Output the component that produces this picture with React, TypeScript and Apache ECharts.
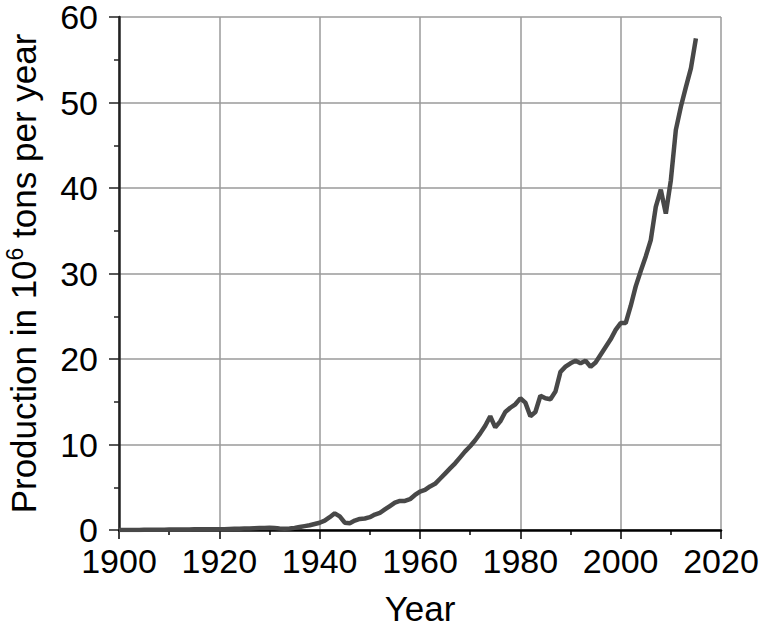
import React, { useEffect, useRef } from "react";
import * as echarts from "echarts";

const years: number[] = [
  1900, 1901, 1902, 1903, 1904, 1905, 1906, 1907, 1908, 1909,
  1910, 1911, 1912, 1913, 1914, 1915, 1916, 1917, 1918, 1919,
  1920, 1921, 1922, 1923, 1924, 1925, 1926, 1927, 1928, 1929,
  1930, 1931, 1932, 1933, 1934, 1935, 1936, 1937, 1938, 1939,
  1940, 1941, 1942, 1943, 1944, 1945, 1946, 1947, 1948, 1949,
  1950, 1951, 1952, 1953, 1954, 1955, 1956, 1957, 1958, 1959,
  1960, 1961, 1962, 1963, 1964, 1965, 1966, 1967, 1968, 1969,
  1970, 1971, 1972, 1973, 1974, 1975, 1976, 1977, 1978, 1979,
  1980, 1981, 1982, 1983, 1984, 1985, 1986, 1987, 1988, 1989,
  1990, 1991, 1992, 1993, 1994, 1995, 1996, 1997, 1998, 1999,
  2000, 2001, 2002, 2003, 2004, 2005, 2006, 2007, 2008, 2009,
  2010, 2011, 2012, 2013, 2014, 2015,
];

const production: number[] = [
  0.0, 0.0, 0.0, 0.01, 0.01, 0.02, 0.02, 0.03, 0.03, 0.04,
  0.05, 0.05, 0.06, 0.07, 0.07, 0.08, 0.08, 0.09, 0.1, 0.1,
  0.1, 0.1, 0.12, 0.14, 0.15, 0.17, 0.18, 0.2, 0.22, 0.24,
  0.25, 0.22, 0.18, 0.15, 0.18, 0.25, 0.35, 0.45, 0.55, 0.7,
  0.85, 1.1, 1.5, 1.95, 1.6, 0.85, 0.8, 1.1, 1.3, 1.35,
  1.5, 1.8, 2.0, 2.4, 2.8, 3.2, 3.4, 3.4, 3.6, 4.1,
  4.5, 4.7, 5.1, 5.4, 6.0, 6.6, 7.2, 7.8, 8.5, 9.2,
  9.8, 10.5, 11.3, 12.2, 13.3, 12.0, 12.7, 13.8, 14.3, 14.7,
  15.4, 14.9, 13.3, 13.8, 15.7, 15.4, 15.3, 16.2, 18.5, 19.1,
  19.5, 19.8, 19.5, 19.8, 19.1, 19.6, 20.5, 21.4, 22.3, 23.4,
  24.2, 24.2, 26.2, 28.5, 30.3, 32.0, 33.9, 37.8, 39.8, 37.0,
  40.9, 46.8, 49.5, 51.8, 54.0, 57.5,
];

const xTicks = { min: 1900, max: 2020, interval: 20 };
const yTicks = { min: 0, max: 60, interval: 10 };

const FONT = "'Liberation Sans', Arial, Helvetica, sans-serif";

export default function App() {
  const ref = useRef<HTMLDivElement>(null);

  useEffect(() => {
    if (!ref.current) return;
    const chart = echarts.init(ref.current, undefined, { renderer: "svg" });
    const data = years.map((y, i) => [y, production[i]]);
    chart.setOption({
      animation: false,
      backgroundColor: "#ffffff",
      grid: {
        left: 119,
        right: 41,
        top: 17,
        bottom: 98,
        containLabel: false,
        outerBoundsMode: "none",
      },
      xAxis: {
        type: "value",
        min: xTicks.min,
        max: xTicks.max,
        interval: xTicks.interval,
        name: "Year",
        nameLocation: "middle",
        nameGap: 61,
        nameTextStyle: { fontFamily: FONT, fontSize: 35, color: "#000" },
        axisLine: { show: true, onZero: false, lineStyle: { color: "#000", width: 2.5 } },
        axisTick: { show: true, inside: false, length: 9, lineStyle: { color: "#000", width: 1.5 } },
        minorTick: { show: true, splitNumber: 2, length: 5, lineStyle: { color: "#000", width: 1.5 } },
        axisLabel: {
          fontFamily: FONT,
          fontSize: 34,
          color: "#000",
          margin: 14,
          hideOverlap: false,
          formatter: (v: number) => String(v),
        },
        splitLine: { show: true, lineStyle: { color: "#9a9a9a", width: 1.5 } },
      },
      yAxis: {
        type: "value",
        min: yTicks.min,
        max: yTicks.max,
        interval: yTicks.interval,
        name: "{a|Production in 10}{s|6}{a| tons per year}",
        nameLocation: "middle",
        nameGap: 78,
        nameRotate: 90,
        nameTextStyle: {
          fontFamily: FONT,
          fontSize: 35,
          color: "#000",
          rich: {
            a: { fontFamily: FONT, fontSize: 35, color: "#000", lineHeight: 38, verticalAlign: "bottom" },
            s: { fontFamily: FONT, fontSize: 23, color: "#000", lineHeight: 38, verticalAlign: "top" },
          },
        },
        axisLine: { show: true, onZero: false, lineStyle: { color: "#222", width: 2.5 } },
        axisTick: { show: true, inside: false, length: 10, lineStyle: { color: "#222", width: 1.5 } },
        minorTick: { show: true, splitNumber: 2, length: 5, lineStyle: { color: "#222", width: 1.5 } },
        axisLabel: { fontFamily: FONT, fontSize: 34, color: "#000", margin: 21, hideOverlap: false },
        splitLine: { show: true, lineStyle: { color: "#9a9a9a", width: 1.5 } },
      },
      series: [
        {
          type: "line",
          data,
          showSymbol: false,
          symbol: "none",
          lineStyle: { color: "#484848", width: 4.5 },
          z: 3,
        },
      ],
    });
    return () => chart.dispose();
  }, []);

  return (
    <div
      ref={ref}
      style={{ position: "fixed", left: 0, top: 0, width: 762, height: 628, background: "#fff" }}
    />
  );
}
